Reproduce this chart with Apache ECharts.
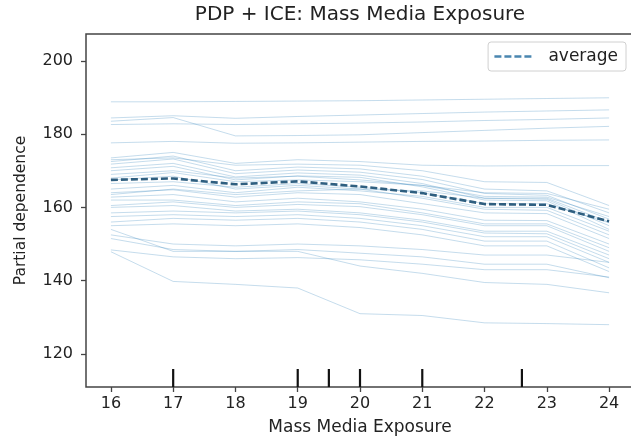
<!DOCTYPE html>
<html><head><meta charset="utf-8">
<script src="https://cdn.jsdelivr.net/npm/echarts@6/dist/echarts.min.js"></script>
<style>html,body{margin:0;padding:0;background:#fff}#c{width:631px;height:438px}</style>
</head><body><div id="c"></div>
<script>
// ---- data ----
const xValues = [16, 17, 18, 19, 20, 21, 22, 23, 24];
const xTicks = [16, 17, 18, 19, 20, 21, 22, 23, 24];
const yTicks = [120, 140, 160, 180, 200];
const averageValues = [167.5, 167.9, 166.3, 167.1, 165.7, 163.9, 160.9, 160.7, 156.2];
const rugValues = [17, 19, 19.5, 20, 21, 22.6];

const ice01 = [188.8, 188.8, 188.9, 189.0, 189.1, 189.3, 189.5, 189.7, 189.9];
const ice02 = [184.4, 185.0, 184.3, 184.8, 185.2, 185.6, 186.0, 186.3, 186.6];
const ice03 = [182.6, 182.8, 182.6, 182.8, 183.0, 183.3, 183.7, 184.0, 184.4];
const ice04 = [183.5, 184.5, 179.5, 179.6, 179.8, 180.4, 181.0, 181.6, 182.1];
const ice05 = [177.6, 178.0, 177.5, 177.6, 177.8, 178.0, 178.1, 178.3, 178.4];
const ice06 = [173.5, 175.0, 172.0, 173.0, 172.5, 171.5, 171.3, 171.4, 171.4];
const ice07 = [172.5, 174.0, 170.0, 171.0, 170.5, 168.5, 165.0, 164.5, 158.5];
const ice08 = [171.8, 173.2, 169.2, 170.2, 169.6, 167.6, 163.8, 163.3, 156.8];
const ice09 = [170.8, 172.0, 168.3, 169.4, 168.8, 166.5, 162.5, 162.2, 155.0];
const ice10 = [170.0, 171.2, 167.5, 168.6, 168.2, 165.6, 162.0, 161.8, 154.0];
const ice11 = [173.0, 173.5, 171.5, 171.8, 171.5, 170.0, 167.0, 166.8, 160.5];
const ice12 = [169.0, 170.0, 168.0, 168.5, 167.5, 166.0, 163.0, 162.8, 157.5];
const ice13 = [167.5, 168.5, 165.0, 166.0, 165.0, 162.5, 159.5, 159.2, 152.5];
const ice14 = [166.5, 167.0, 165.5, 166.5, 165.5, 164.0, 161.0, 161.0, 155.8];
const ice15 = [165.0, 166.0, 164.0, 165.5, 164.5, 163.0, 160.0, 160.0, 153.5];
const ice16 = [164.0, 164.8, 162.8, 164.0, 163.5, 161.0, 158.5, 158.3, 151.5];
const ice17 = [162.8, 163.5, 161.5, 162.5, 161.5, 159.5, 156.5, 156.4, 150.0];
const ice18 = [162.0, 162.0, 160.5, 161.5, 161.0, 158.5, 155.5, 155.5, 149.0];
const ice19 = [160.5, 161.5, 160.0, 160.8, 160.2, 158.0, 155.0, 155.0, 148.0];
const ice20 = [160.0, 160.5, 159.0, 159.5, 158.5, 156.5, 153.5, 153.5, 147.0];
const ice21 = [158.5, 159.0, 158.5, 159.0, 158.0, 156.0, 153.0, 152.8, 146.0];
const ice22 = [157.5, 158.0, 157.5, 158.0, 157.0, 155.0, 152.0, 152.0, 145.0];
const ice23 = [156.0, 157.0, 156.5, 157.0, 156.0, 154.0, 150.8, 150.8, 143.5];
const ice24 = [155.0, 155.5, 155.0, 155.5, 154.5, 152.5, 149.5, 149.5, 142.5];
const ice25 = [154.0, 148.0, 148.0, 148.5, 147.5, 146.5, 144.5, 144.5, 140.8];
const ice26 = [152.5, 150.0, 149.5, 150.0, 149.5, 148.5, 147.0, 147.0, 145.0];
const ice27 = [151.5, 148.5, 148.0, 148.0, 144.0, 142.0, 139.5, 139.0, 136.7];
const ice28 = [148.4, 146.5, 146.0, 146.3, 145.7, 144.5, 143.0, 143.0, 141.0];
const ice29 = [147.9, 139.8, 139.0, 138.0, 131.0, 130.5, 128.5, 128.3, 128.0];
const ice30 = [163.5, 165.0, 163.5, 164.5, 165.0, 164.5, 162.5, 162.5, 156.0];
const ice31 = [168.0, 169.5, 167.0, 167.5, 167.0, 166.0, 164.0, 163.8, 159.5];

const iceLines = [ice01, ice02, ice03, ice04, ice05, ice06, ice07, ice08, ice09, ice10,
  ice11, ice12, ice13, ice14, ice15, ice16, ice17, ice18, ice19, ice20, ice21, ice22,
  ice23, ice24, ice25, ice26, ice27, ice28, ice29, ice30, ice31];

// ---- chart ----
const X_MIN = 15.6, X_MAX = 24.4, Y_MIN = 111, Y_MAX = 207.3;
const FONT = 'DejaVu Sans';
const AVG_COLOR = '#2f5f80';
const pairs = arr => xValues.map((x, i) => [x, arr[i]]);

const series = iceLines.map(arr => ({
  type: 'line', data: pairs(arr), symbol: 'none', silent: true, z: 2,
  lineStyle: { color: 'rgba(31,119,180,0.26)', width: 1 }, emphasis: { disabled: true }
}));
series.push({
  name: 'average', type: 'line', data: pairs(averageValues), symbol: 'none', z: 5,
  lineStyle: { color: AVG_COLOR, width: 2.6, type: [7, 3] }, itemStyle: { color: AVG_COLOR }
});
series.push({
  type: 'custom', data: rugValues.map(v => [v]), silent: true, z: 6, clip: false,
  renderItem: (params, api) => {
    const p = api.coord([api.value(0), Y_MIN]);
    return { type: 'line', shape: { x1: p[0], y1: p[1], x2: p[0], y2: p[1] - 18 },
      style: { stroke: '#111', lineWidth: 2.2 } };
  }
});

const chart = echarts.init(document.getElementById('c'), null, { renderer: 'canvas' });
chart.setOption({
  animation: false,
  backgroundColor: '#fff',
  title: {
    text: 'PDP + ICE: Mass Media Exposure', left: 360, top: 5, textAlign: 'center', padding: 0,
    textStyle: { fontFamily: FONT, fontSize: 20, fontWeight: 'normal', color: '#222' }
  },
  legend: {
    data: ['average'], right: 5, top: 42, orient: 'horizontal',
    itemWidth: 40, itemHeight: 14, itemGap: 10,
    itemStyle: { opacity: 0, borderWidth: 0 },
    lineStyle: { color: '#4a86b0', width: 2.6, type: [7, 3] },
    padding: [6, 8, 6, 5], borderColor: '#d0d0d0', borderWidth: 1, borderRadius: 3,
    backgroundColor: 'rgba(255,255,255,0.85)',
    textStyle: { fontFamily: FONT, fontSize: 17, color: '#222', padding: [0, 0, 0, 9] }
  },
  grid: { left: 86, right: -3, top: 34, bottom: 51, containLabel: false, outerBoundsMode: 'none',
    show: true, borderColor: '#444', borderWidth: 1.5, backgroundColor: 'transparent' },
  xAxis: {
    type: 'value', min: X_MIN, max: X_MAX,
    name: 'Mass Media Exposure', nameLocation: 'middle', nameGap: 32,
    nameTextStyle: { fontFamily: FONT, fontSize: 17, color: '#222' },
    axisLine: { show: false },
    axisTick: { show: true, length: 5, lineStyle: { color: '#444', width: 1.3 }, customValues: xTicks },
    axisLabel: { fontFamily: FONT, fontSize: 16, color: '#222', margin: 9, customValues: xTicks },
    splitLine: { show: false }
  },
  yAxis: {
    type: 'value', min: Y_MIN, max: Y_MAX,
    name: 'Partial dependence', nameLocation: 'middle', nameGap: 57,
    nameTextStyle: { fontFamily: FONT, fontSize: 15.5, color: '#222' },
    axisLine: { show: false },
    axisTick: { show: true, length: 5, lineStyle: { color: '#444', width: 1.3 }, customValues: yTicks },
    axisLabel: { fontFamily: FONT, fontSize: 16, color: '#222', margin: 13, customValues: yTicks },
    splitLine: { show: false }
  },
  series: series
});
</script></body></html>
